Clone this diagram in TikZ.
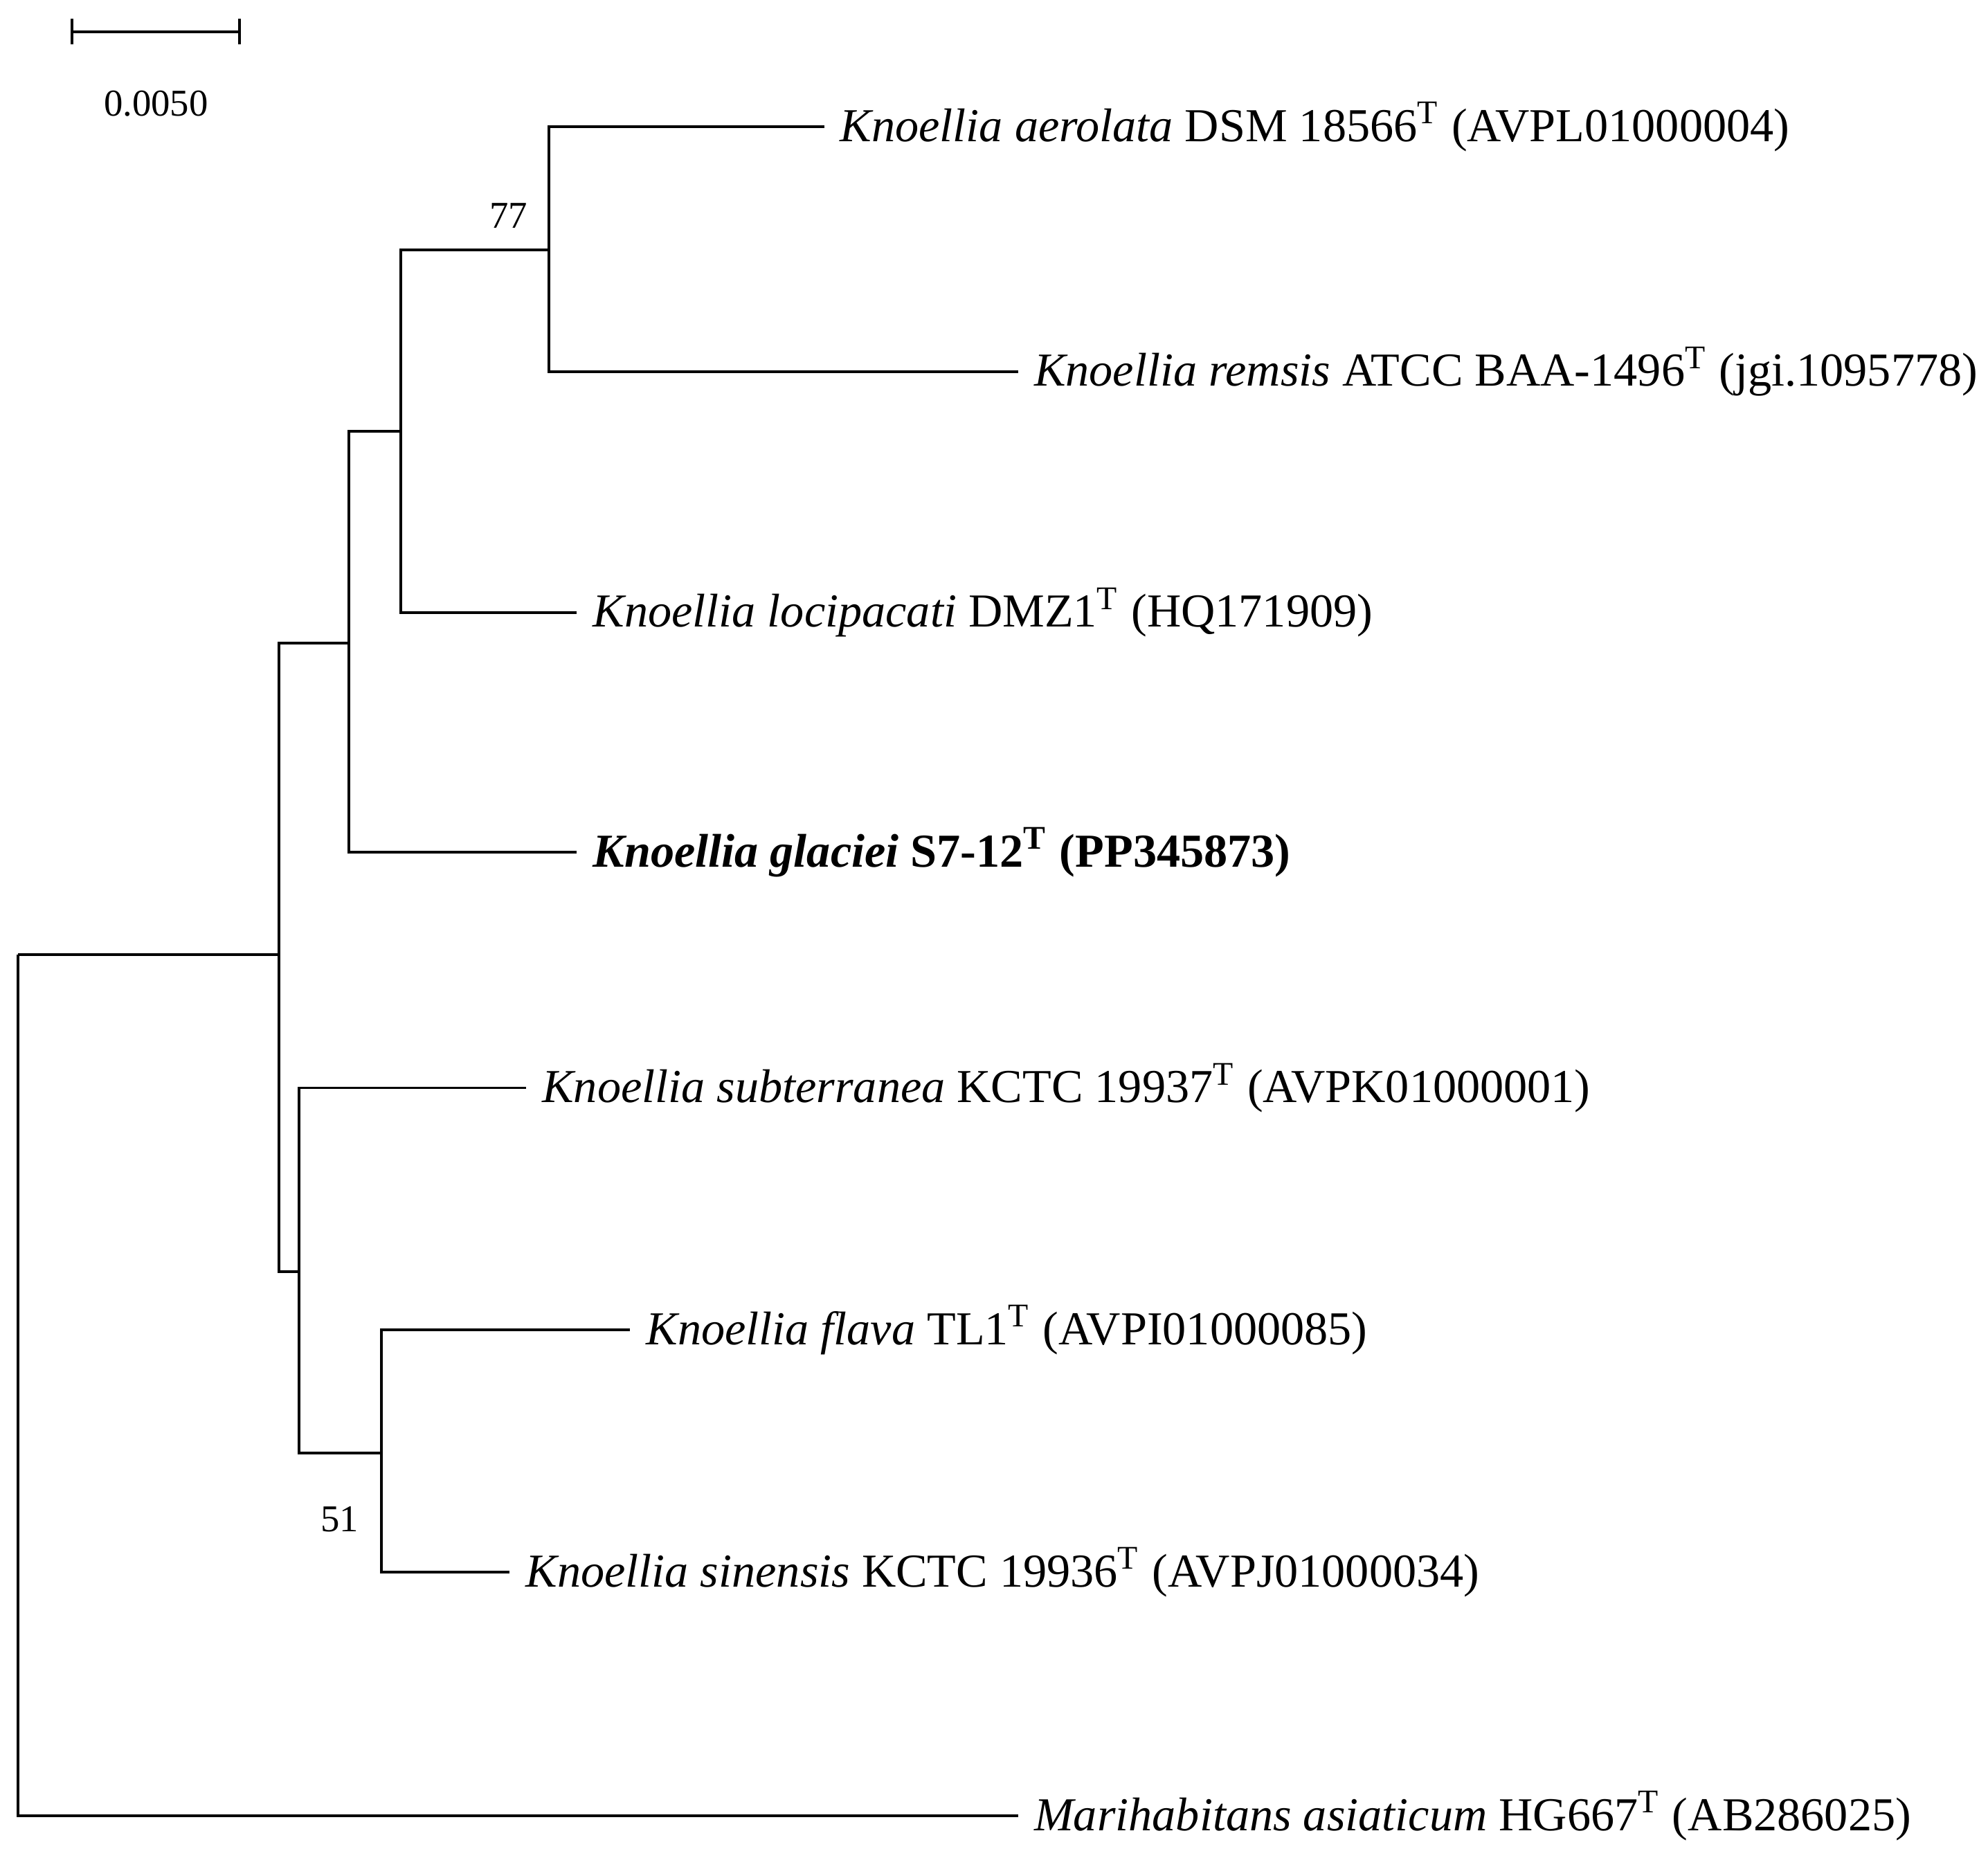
\documentclass[tikz,border=0pt]{standalone}
\usepackage{fontspec}
\setmainfont{Liberation Serif}
\usetikzlibrary{positioning}

\begin{document}
\begin{tikzpicture}[
    x=0.01cm, y=-0.01cm,
    branch/.style={draw, line width=0.6pt},
    leaf/.style={anchor=west, inner xsep=0.12cm, inner ysep=0pt, font=\fontsize{10.6}{12}\selectfont},
    boot/.style={font=\fontsize{8.5}{10}\selectfont, inner sep=0pt}
]
\useasboundingbox (0,0) rectangle (1568,1458);

% Scale bar
\coordinate (sbl) at (57,25);
\coordinate (sbr) at (189,25);
\draw[branch] (sbl) -- (sbr);
\draw[branch] ([yshift=-0.1cm]sbl) -- ([yshift=0.1cm]sbl);
\draw[branch] ([yshift=-0.1cm]sbr) -- ([yshift=0.1cm]sbr);
\node[boot] (scale) at (123,82) {0.0050};

% Internal nodes
\coordinate (root) at (14,753);
\coordinate (na) at (220,753);
\coordinate (nb) at (275,507);
\coordinate (nc) at (316,340);
\coordinate (nd) at (433,197);
\coordinate (ne) at (236,1003);
\coordinate (nf) at (301,1146);

% Leaves
\node[leaf] (aer) at (650,100) {\textit{Knoellia aerolata} DSM 18566\textsuperscript{T} (AVPL01000004)};
\node[leaf] (rem) at (803,293) {\textit{Knoellia remsis} ATCC BAA-1496\textsuperscript{T} (jgi.1095778)};
\node[leaf] (loc) at (455,483) {\textit{Knoellia locipacati} DMZ1\textsuperscript{T} (HQ171909)};
\node[leaf] (gla) at (455,672) {\textbf{\textit{Knoellia glaciei} S7-12\textsuperscript{T} (PP345873)}};
\node[leaf] (sub) at (415,858) {\textit{Knoellia subterranea} KCTC 19937\textsuperscript{T} (AVPK01000001)};
\node[leaf] (fla) at (497,1049) {\textit{Knoellia flava} TL1\textsuperscript{T} (AVPI01000085)};
\node[leaf] (sin) at (402,1240) {\textit{Knoellia sinensis} KCTC 19936\textsuperscript{T} (AVPJ01000034)};
\node[leaf] (mar) at (803,1432) {\textit{Marihabitans asiaticum} HG667\textsuperscript{T} (AB286025)};

% Branches
\draw[branch] (root) |- (mar.west);
\draw[branch] (root) -- (na);
\draw[branch] (na) |- (nb);
\draw[branch] (na) |- (ne);
\draw[branch] (nb) |- (nc);
\draw[branch] (nb) |- (gla.west);
\draw[branch] (nc) |- (nd);
\draw[branch] (nc) |- (loc.west);
\draw[branch] (nd) |- (aer.west);
\draw[branch] (nd) |- (rem.west);
\draw[branch] (ne) |- (sub.west);
\draw[branch] (ne) |- (nf);
\draw[branch] (nf) |- (fla.west);
\draw[branch] (nf) |- (sin.west);

% Bootstrap values
\node[boot] (b77) at (401,170) {77};
\node[boot] (b51) at (268,1198) {51};
\end{tikzpicture}
\end{document}
